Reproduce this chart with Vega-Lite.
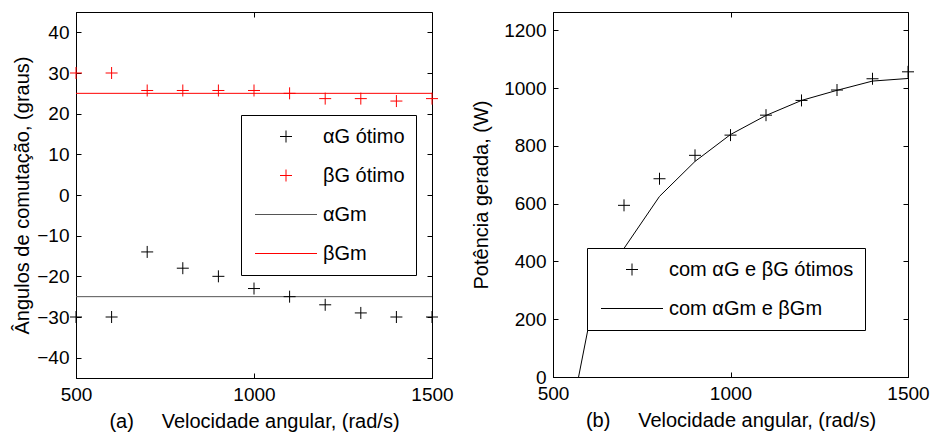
{
  "$schema": "https://vega.github.io/schema/vega-lite/v6.json",
  "padding": {"left": 12, "top": 11, "right": 0, "bottom": 0},
  "background": "white",
  "spacing": 17,
  "resolve": {"scale": {"color": "independent"}},
  "config": {
    "font": "Liberation Sans",
    "view": {"stroke": "black", "strokeWidth": 1},
    "axis": {
      "labelFont": "Liberation Sans", "titleFont": "Liberation Sans",
      "labelFontSize": 19, "titleFontSize": 20, "titleFontWeight": "normal",
      "labelColor": "black", "titleColor": "black",
      "domainColor": "black", "tickColor": "black", "tickSize": -5,
      "grid": false, "labelPadding": 12, "format": "d"
    },
    "legend": {
      "labelFont": "Liberation Sans", "labelFontSize": 20, "labelColor": "black", "labelLimit": 400,
      "fillColor": "white", "strokeColor": "black", "symbolSize": 400, "symbolStrokeWidth": 1, "symbolOpacity": 1,
      "symbolFillColor": "transparent", "padding": 11, "symbolOffset": 23.5, "labelOffset": 26.5, "rowPadding": 18
    }
  },
  "datasets": {
    "angulos": [
      {"w": 500, "ang": -30, "serie": "αG ótimo"},
      {"w": 600, "ang": -30, "serie": "αG ótimo"},
      {"w": 700, "ang": -14, "serie": "αG ótimo"},
      {"w": 800, "ang": -18, "serie": "αG ótimo"},
      {"w": 900, "ang": -20, "serie": "αG ótimo"},
      {"w": 1000, "ang": -23, "serie": "αG ótimo"},
      {"w": 1100, "ang": -25, "serie": "αG ótimo"},
      {"w": 1200, "ang": -27, "serie": "αG ótimo"},
      {"w": 1300, "ang": -29, "serie": "αG ótimo"},
      {"w": 1400, "ang": -30, "serie": "αG ótimo"},
      {"w": 1500, "ang": -30, "serie": "αG ótimo"},
      {"w": 500, "ang": 30, "serie": "βG ótimo"},
      {"w": 600, "ang": 30, "serie": "βG ótimo"},
      {"w": 700, "ang": 25.7, "serie": "βG ótimo"},
      {"w": 800, "ang": 25.7, "serie": "βG ótimo"},
      {"w": 900, "ang": 25.7, "serie": "βG ótimo"},
      {"w": 1000, "ang": 25.7, "serie": "βG ótimo"},
      {"w": 1100, "ang": 25, "serie": "βG ótimo"},
      {"w": 1200, "ang": 23.7, "serie": "βG ótimo"},
      {"w": 1300, "ang": 23.7, "serie": "βG ótimo"},
      {"w": 1400, "ang": 23.1, "serie": "βG ótimo"},
      {"w": 1500, "ang": 23.7, "serie": "βG ótimo"}
    ],
    "medios": [
      {"ang": -25, "serie": "αGm"},
      {"ang": 25, "serie": "βGm"}
    ],
    "potencia": [
      {"w": 700, "p": 594, "serie": "com αG e βG ótimos"},
      {"w": 800, "p": 686, "serie": "com αG e βG ótimos"},
      {"w": 900, "p": 767, "serie": "com αG e βG ótimos"},
      {"w": 1000, "p": 837, "serie": "com αG e βG ótimos"},
      {"w": 1100, "p": 906, "serie": "com αG e βG ótimos"},
      {"w": 1200, "p": 957, "serie": "com αG e βG ótimos"},
      {"w": 1300, "p": 993, "serie": "com αG e βG ótimos"},
      {"w": 1400, "p": 1032, "serie": "com αG e βG ótimos"},
      {"w": 1500, "p": 1056, "serie": "com αG e βG ótimos"}
    ],
    "potenciaMedia": [
      {"w": 500, "p": -450, "serie": "com αGm e βGm"},
      {"w": 600, "p": 175, "serie": "com αGm e βGm"},
      {"w": 700, "p": 445, "serie": "com αGm e βGm"},
      {"w": 800, "p": 625, "serie": "com αGm e βGm"},
      {"w": 900, "p": 746, "serie": "com αGm e βGm"},
      {"w": 1000, "p": 839, "serie": "com αGm e βGm"},
      {"w": 1100, "p": 905, "serie": "com αGm e βGm"},
      {"w": 1200, "p": 957, "serie": "com αGm e βGm"},
      {"w": 1300, "p": 992, "serie": "com αGm e βGm"},
      {"w": 1400, "p": 1024, "serie": "com αGm e βGm"},
      {"w": 1500, "p": 1033, "serie": "com αGm e βGm"}
    ]
  },
  "hconcat": [
    {
      "width": 356,
      "height": 366,
      "resolve": {"axis": {"x": "independent", "y": "independent"}},
      "layer": [
        {
          "data": {"name": "medios"},
          "mark": {"type": "rule", "strokeWidth": 1},
          "encoding": {
            "y": {"field": "ang", "type": "quantitative", "scale": {"domain": [-45, 45], "nice": false, "zero": false}, "axis": null},
            "color": {"field": "serie", "type": "nominal",
              "scale": {"domain": ["αG ótimo", "βG ótimo", "αGm", "βGm"], "range": ["black", "#ff0000", "#555555", "#ff0000"]},
              "legend": {"orient": "none", "legendX": 165, "legendY": 103, "title": null,
                "symbolType": {"expr": "(datum.value === 'αGm' || datum.value === 'βGm') ? 'M-3.1,0L3.1,0' : 'M-0.6,0L0.6,0M0,-0.6L0,0.6'"}}}
          }
        },
        {
          "data": {"name": "angulos"},
          "transform": [{"filter": "datum.serie === 'αG ótimo'"}],
          "mark": {"type": "point", "filled": false, "strokeWidth": 1, "size": 400, "opacity": 1, "shape": "M-0.6,0L0.6,0M0,-0.6L0,0.6"},
          "encoding": {
            "x": {"field": "w", "type": "quantitative", "scale": {"domain": [500, 1500], "nice": false, "zero": false},
              "axis": {"values": [500, 1000, 1500], "title": "(a)\u00a0\u00a0\u00a0\u00a0\u00a0Velocidade angular, (rad/s)", "titlePadding": 7, "labelFlush": false}},
            "y": {"field": "ang", "type": "quantitative",
              "axis": {"values": [-40, -30, -20, -10, 0, 10, 20, 30, 40], "title": "Ângulos de comutação, (graus)", "titlePadding": 4}},
            "color": {"field": "serie", "type": "nominal"}
          }
        },
        {
          "data": {"name": "angulos"},
          "transform": [{"filter": "datum.serie === 'βG ótimo'"}],
          "mark": {"type": "point", "filled": false, "strokeWidth": 1, "size": 400, "opacity": 1, "shape": "M-0.6,0L0.6,0M0,-0.6L0,0.6"},
          "encoding": {
            "x": {"field": "w", "type": "quantitative", "axis": {"orient": "top", "values": [500, 1000, 1500], "labels": false, "title": null, "domain": false}},
            "y": {"field": "ang", "type": "quantitative", "axis": {"orient": "right", "values": [-40, -30, -20, -10, 0, 10, 20, 30, 40], "labels": false, "title": null, "domain": false}},
            "color": {"field": "serie", "type": "nominal"}
          }
        }
      ]
    },
    {
      "width": 355,
      "height": 365,
      "resolve": {"axis": {"x": "independent", "y": "independent"}},
      "layer": [
        {
          "data": {"name": "potenciaMedia"},
          "mark": {"type": "line", "strokeWidth": 1, "clip": true},
          "encoding": {
            "x": {"field": "w", "type": "quantitative", "scale": {"domain": [500, 1500], "nice": false, "zero": false},
              "axis": {"orient": "top", "values": [500, 1000, 1500], "labels": false, "title": null, "domain": false}},
            "y": {"field": "p", "type": "quantitative", "scale": {"domain": [0, 1263], "nice": false},
              "axis": {"orient": "right", "values": [0, 200, 400, 600, 800, 1000, 1200], "labels": false, "title": null, "domain": false}},
            "color": {"field": "serie", "type": "nominal",
              "scale": {"domain": ["com αG e βG ótimos", "com αGm e βGm"], "range": ["black", "black"]},
              "legend": {"orient": "none", "legendX": 34, "legendY": 236, "title": null,
                "symbolType": {"expr": "datum.value === 'com αGm e βGm' ? 'M-3.1,0L3.1,0' : 'M-0.6,0L0.6,0M0,-0.6L0,0.6'"}}}
          }
        },
        {
          "data": {"name": "potencia"},
          "mark": {"type": "point", "filled": false, "strokeWidth": 1, "size": 400, "opacity": 1, "shape": "M-0.6,0L0.6,0M0,-0.6L0,0.6"},
          "encoding": {
            "x": {"field": "w", "type": "quantitative",
              "axis": {"values": [500, 1000, 1500], "title": "(b)\u00a0\u00a0\u00a0\u00a0\u00a0Velocidade angular, (rad/s)", "titlePadding": 7, "labelFlush": false}},
            "y": {"field": "p", "type": "quantitative",
              "axis": {"values": [0, 200, 400, 600, 800, 1000, 1200], "title": "Potência gerada, (W)", "titlePadding": 12}},
            "color": {"field": "serie", "type": "nominal"}
          }
        }
      ]
    }
  ]
}
